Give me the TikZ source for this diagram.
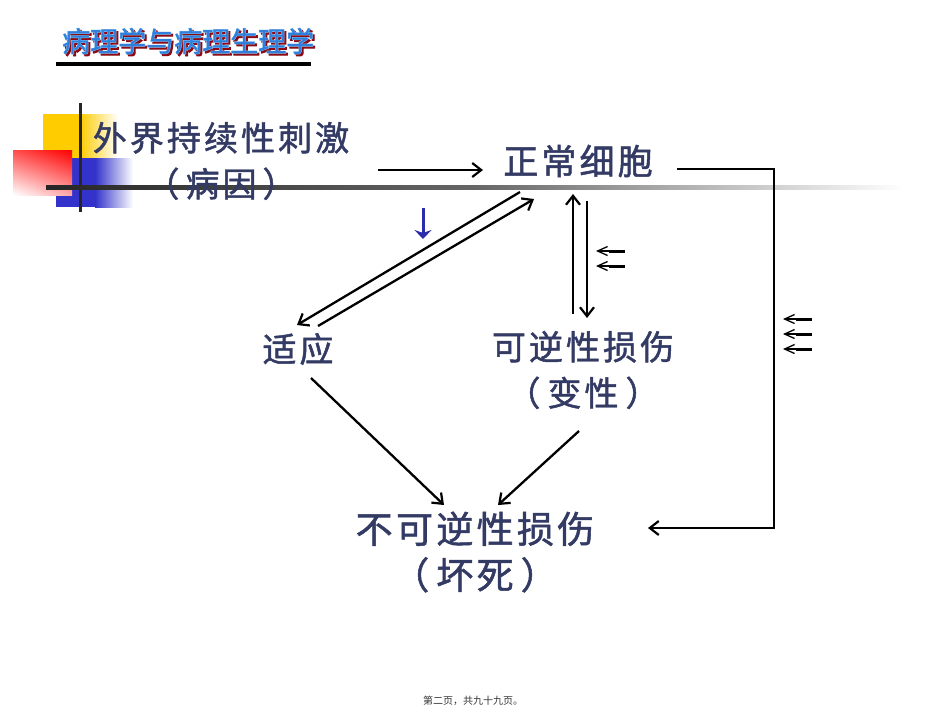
\documentclass[tikz,border=0pt]{standalone}
\usepackage{fontspec}
\setmainfont{Noto Sans CJK SC}
\newfontfamily\cjkb[LetterSpace=9,FakeBold=1.4]{Noto Sans CJK SC}
\newfontfamily\cjkt{Noto Sans CJK SC}[FakeBold=0.8]
\newfontfamily\cjko{Noto Sans CJK SC}[FakeBold=3.5]
\usetikzlibrary{arrows.meta,shadings}
\definecolor{inkc}{HTML}{333A63}
\definecolor{titleb}{HTML}{2F80DC}
\definecolor{titlel}{HTML}{A6D0F2}
\definecolor{titles}{HTML}{8B0A14}
\definecolor{sqy}{HTML}{FFCC00}
\definecolor{sqb}{HTML}{3333CC}
\tikzset{
 lab/.style={font=\cjkb\fontsize{34}{46}\selectfont,text=inkc,inner sep=0pt,align=center},
 labn/.style={font=\cjkb\fontsize{35}{46}\selectfont,text=inkc,inner sep=0pt,align=center},
 labw/.style={font=\cjkb\fontsize{37}{46}\selectfont,text=inkc,inner sep=0pt,align=center},
 conn/.style={draw=black,line width=2.3pt,-{Straight Barb[length=9pt,width=14pt,line width=2.2pt]}},
 mini/.style={draw=black,line width=1.2pt,-{Straight Barb[length=10pt,width=9pt,line width=1.3pt]}},
 bar/.style={draw=black,line width=3pt},
 ttlo/.style={font=\cjko\fontsize{28}{36}\selectfont,inner sep=0pt,anchor=west},
 ttl/.style={font=\cjkt\fontsize{28}{36}\selectfont,inner sep=0pt,anchor=west}
}
\begin{document}
\begin{tikzpicture}[x=1pt,y=-1pt]
\useasboundingbox (0,0) rectangle (950,713);
% decoration
\fill[sqy] (43,114) rectangle (80,160);
\shade[left color=sqy,right color=white] (80,114) rectangle (118,160);
\fill[sqb] (56,158) rectangle (95,207);
\shade[left color=sqb,right color=white] (95,158) rectangle (133,207);
\shade[upper right=red,upper left=red!70,lower right=red!35,lower left=white] (13,150) rectangle (72,195);
\draw[line width=3pt,draw=black!85] (80,103) -- (80,212);
\shade[left color=black!85,right color=white,middle color=black!60] (46,185) rectangle (905,189);
% title
\node[ttlo,text=titles] (ts) at (64,43) {病理学与病理生理学};
\node[ttlo,text=titlel] (tl) at (62,41) {病理学与病理生理学};
\node[ttl,text=titleb] (tm) at (62,41) {病理学与病理生理学};
\draw[line width=3.2pt] (56,64) -- (311,64);
% labels
\node[lab] (ext) at (221,161) {外界持续性刺激\\（\hspace{6pt}病因\hspace{6pt}）};
\node[labn] (norm) at (578,161) {正常细胞};
\node[lab] (adapt) at (298,349) {适应};
\node[lab] (rev) at (583,370) {可逆性损伤\\（\hspace{7pt}变性\hspace{7pt}）};
\node[labw] (irr) at (475,552) {不可逆性损伤\\（\hspace{7pt}坏死\hspace{7pt}）};
\node[font=\fontsize{10}{12}\selectfont,text=black!80,inner sep=0pt] (foot) at (473,701) {第二页，共九十九页。};
% connector anchors
\coordinate (a1) at (378,170);
\coordinate (a2) at (483,170);
\coordinate (b1) at (520,192);
\coordinate (b2) at (297,325);
\coordinate (c1) at (318,326);
\coordinate (c2) at (534,199);
\coordinate (d1) at (573,314);
\coordinate (d2) at (573,194);
\coordinate (e1) at (587,201);
\coordinate (e2) at (587,318);
\coordinate (f1) at (311,378);
\coordinate (f2) at (444,505);
\coordinate (g1) at (579,431);
\coordinate (g2) at (498,505);
\coordinate (h1) at (677,169);
\coordinate (h2) at (774,169);
\coordinate (h3) at (774,528);
\coordinate (h4) at (648,528);
\draw[conn] (a1) -- (a2);
\draw[conn] (b1) -- (b2);
\draw[conn] (c1) -- (c2);
\draw[conn] (d1) -- (d2);
\draw[conn] (e1) -- (e2);
\draw[conn] (f1) -- (f2);
\draw[conn] (g1) -- (g2);
\draw[conn,line join=miter] (h1) -- (h2) -- (h3) -- (h4);
% small arrows
\foreach \y in {251,266}{
 \draw[mini] (610,\y) -- (596,\y);
 \draw[bar] (625,\y) -- (609,\y);
}
\foreach \y in {319,334,349}{
 \draw[mini] (797,\y) -- (783,\y);
 \draw[bar] (812,\y) -- (796,\y);
}
\draw[draw=sqb!85!black,line width=3pt,-{Stealth[length=9pt,width=17pt]}] (423,208) -- (423,239);
\end{tikzpicture}
\end{document}
